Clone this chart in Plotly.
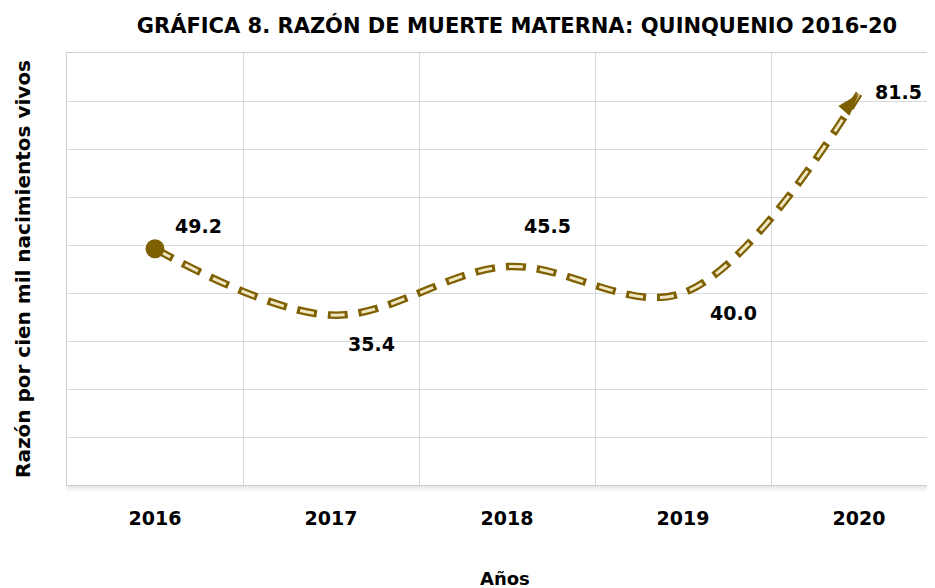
import plotly.graph_objects as go

# Datos de la gráfica
anios = ["2016", "2017", "2018", "2019", "2020"]
razon = [49.2, 35.4, 45.5, 40.0, 81.5]
etiquetas = ["49.2", "35.4", "45.5", "40.0", "81.5"]

dorado_osc = "#7f6000"
dorado_claro = "#efe6c4"
fuente = "DejaVu Sans"

fig = go.Figure()

# Línea punteada: contorno oscuro + relleno claro
fig.add_trace(go.Scatter(
    x=anios, y=razon, mode="lines",
    line=dict(shape="spline", color=dorado_osc, width=7.5, dash="20px,11px"),
    hoverinfo="skip", showlegend=False
))
fig.add_trace(go.Scatter(
    x=anios, y=razon, mode="lines",
    line=dict(shape="spline", color=dorado_claro, width=3,
              dash="0px,3px,14px,14px"),
    hoverinfo="skip", showlegend=False
))

# Punto inicial
fig.add_trace(go.Scatter(
    x=anios[:1], y=razon[:1], mode="markers",
    marker=dict(symbol="circle", size=19, color=dorado_osc),
    hoverinfo="skip", showlegend=False
))
# Flecha final
fig.add_trace(go.Scatter(
    x=anios[-2:], y=razon[-2:], mode="markers",
    marker=dict(symbol="arrow", size=24, color=dorado_osc,
                angleref="previous", opacity=[0, 1]),
    hoverinfo="skip", showlegend=False
))

# Etiquetas de datos (x por índice de categoría)
desplaz = [(43, 23), (40, -29), (40, 41), (50, -20), (39, 2)]
for i, (v, t, (dx, dy)) in enumerate(zip(razon, etiquetas, desplaz)):
    fig.add_annotation(x=i, y=v, text=t, showarrow=False,
                       xshift=dx, yshift=dy,
                       font=dict(family=fuente, size=19, color="black",
                                 weight="bold"))

# Sombra del área de la gráfica
for i, op in enumerate([0.10, 0.06, 0.03]):
    fig.add_shape(type="rect", xref="paper", yref="paper",
                  x0=0, x1=1, y0=-0.005 * (i + 1), y1=-0.005 * i,
                  fillcolor=f"rgba(0,0,0,{op})", line=dict(width=0),
                  layer="below")

fig.add_annotation(xref="paper", yref="paper", x=0.5, y=-0.188,
                   text="Años", showarrow=False, yanchor="top",
                   font=dict(family=fuente, size=18, color="black",
                             weight="bold"))

fig.update_layout(
    width=935, height=588,
    margin=dict(l=59, r=0, t=45, b=111),
    paper_bgcolor="white", plot_bgcolor="white",
    title=dict(text="GRÁFICA 8. RAZÓN DE MUERTE MATERNA: QUINQUENIO 2016-20",
               x=509 / 935, xanchor="center", y=0.97, yanchor="middle",
               font=dict(family=fuente, size=21, color="black",
                         weight="bold")),
    xaxis=dict(
        type="category", range=[-0.5, 4.477], tickson="boundaries",
        showgrid=True, gridcolor="#d9d9d9", gridwidth=1,
        showline=True, linecolor="#d0d0d0", mirror=True,
        ticks="", ticklabelstandoff=16, automargin=False,
        tickfont=dict(family=fuente, size=19, color="black", weight="bold"),
        zeroline=False
    ),
    yaxis=dict(
        range=[0, 90], dtick=10, showticklabels=False,
        showgrid=True, gridcolor="#d9d9d9", gridwidth=1,
        showline=True, linecolor="#d0d0d0", mirror=True,
        zeroline=False, ticks="", automargin=False,
        title=dict(text="Razón por cien mil nacimientos vivos", standoff=30,
                   font=dict(family=fuente, size=20, color="black",
                             weight="bold"))
    ),
)

fig.write_html("out.html")
